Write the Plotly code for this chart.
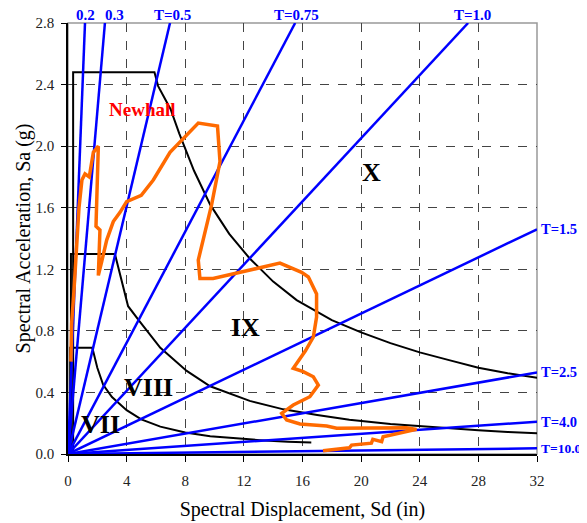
import plotly.graph_objects as go

# ---- data ----
period_labels = ["0.2", "0.3", "T=0.5", "T=0.75", "T=1.0", "T=1.5", "T=2.5", "T=4.0", "T=10.0"]
period_end_sd = [1.16, 2.52, 6.96, 15.5, 27.3, 32.0, 32.0, 32.0, 32.0]
period_end_sa = [2.8, 2.8, 2.8, 2.8, 2.8, 1.46, 0.53, 0.21, 0.037]

# region boundaries
bound_x_sd = [0.35, 0.35, 5.9, 6.15, 7.0, 7.6, 8.6, 9.7, 11.0, 12.4, 14.0, 15.6, 18.0, 20.0, 22.0, 24.0, 26.0, 28.0, 30.0, 32.0]
bound_x_sa = [0.0, 2.48, 2.48, 2.39, 2.24, 2.08, 1.84, 1.62, 1.43, 1.27, 1.12, 1.0, 0.87, 0.79, 0.72, 0.66, 0.61, 0.56, 0.525, 0.495]

bound_ix_sd = [0.2, 0.2, 3.2, 3.6, 4.1, 4.9, 6.3, 8.1, 9.7, 12.4, 14.7, 17.0, 19.2, 22.0, 24.0, 26.0, 28.0, 30.0, 32.0]
bound_ix_sa = [0.0, 1.3, 1.3, 1.15, 0.96, 0.86, 0.69, 0.54, 0.44, 0.345, 0.29, 0.253, 0.222, 0.195, 0.18, 0.165, 0.154, 0.143, 0.134]

bound_viii_sd = [0.15, 0.15, 1.66, 2.0, 2.4, 3.0, 4.0, 5.0, 6.3, 8.0, 9.7, 11.5, 13.1, 15.0, 16.6]
bound_viii_sa = [0.0, 0.69, 0.69, 0.56, 0.45, 0.37, 0.285, 0.225, 0.178, 0.14, 0.115, 0.1, 0.09, 0.08, 0.074]

newhall_sd = [0.2, 0.25, 0.4, 0.55, 0.6, 0.75, 0.95, 1.16, 1.45, 1.73, 2.07, 1.91, 2.18, 2.07, 2.3, 2.64, 3.09,
              3.55, 4.0, 5.0, 5.82, 6.96, 8.89, 10.2, 10.37, 9.8, 8.89, 9.0, 9.9, 14.46, 15.94, 16.4, 16.96,
              16.96, 16.74, 16.2, 15.37, 16.05, 16.74, 17.08, 16.5, 15.37, 14.58, 14.92, 15.83, 17.65, 18.33,
              21.06, 23.1, 23.78, 21.5, 21.4, 20.8, 20.7, 19.35, 19.2, 17.4]
newhall_sa = [0.6, 0.85, 1.05, 1.3, 1.44, 1.6, 1.78, 1.82, 1.8, 1.96, 2.0, 1.48, 1.455, 1.16, 1.25, 1.39, 1.51,
              1.57, 1.64, 1.68, 1.78, 1.96, 2.15, 2.13, 1.9, 1.62, 1.26, 1.14, 1.14, 1.24, 1.18, 1.15, 1.04,
              0.89, 0.76, 0.67, 0.557, 0.535, 0.502, 0.448, 0.372, 0.318, 0.264, 0.221, 0.195, 0.182, 0.167,
              0.171, 0.171, 0.16, 0.112, 0.08, 0.095, 0.07, 0.058, 0.04, 0.021]

region_labels = ["X", "IX", "VIII", "VII"]
region_sd = [20.7, 12.1, 5.5, 2.2]
region_sa = [1.83, 0.82, 0.435, 0.19]

x_ticks = [0, 4, 8, 12, 16, 20, 24, 28, 32]
y_ticks = [0.0, 0.4, 0.8, 1.2, 1.6, 2.0, 2.4, 2.8]

x_title = "Spectral Displacement, Sd (in)"
y_title = "Spectral Acceleration, Sa (g)"

SERIF = "Liberation Serif, Times New Roman, serif"
BLUE = "#0000FF"

fig = go.Figure()

for sd, sa in [(bound_x_sd, bound_x_sa), (bound_ix_sd, bound_ix_sa), (bound_viii_sd, bound_viii_sa)]:
    fig.add_trace(go.Scatter(x=sd, y=sa, mode="lines", line=dict(color="black", width=2),
                             showlegend=False, hoverinfo="skip"))

for lab, xe, ye in zip(period_labels, period_end_sd, period_end_sa):
    fig.add_trace(go.Scatter(x=[0, xe], y=[0, ye], mode="lines", line=dict(color=BLUE, width=2.5),
                             showlegend=False, name=lab))

fig.add_trace(go.Scatter(x=newhall_sd, y=newhall_sa, mode="lines", line=dict(color="#FF6A00", width=3.5),
                         showlegend=False, name="Newhall"))

top_label_xshift = {"0.2": 0, "0.3": 10, "T=0.5": 2, "T=0.75": 1, "T=1.0": 4}
right_label_size = {"T=10.0": 13.5}

annotations = []
for lab, xe, ye in zip(period_labels, period_end_sd, period_end_sa):
    if ye >= 2.8:
        annotations.append(dict(x=xe, y=ye, text="<b>%s</b>" % lab, showarrow=False, yanchor="middle",
                                xanchor="center", yshift=8, xshift=top_label_xshift.get(lab, 0),
                                font=dict(family=SERIF, size=15, color=BLUE)))
    else:
        annotations.append(dict(x=xe, y=ye, text="<b>%s</b>" % lab, showarrow=False, xanchor="left",
                                yanchor="middle", xshift=2,
                                font=dict(family=SERIF, size=right_label_size.get(lab, 14.5), color=BLUE)))
for lab, xs, ys in zip(region_labels, region_sd, region_sa):
    annotations.append(dict(x=xs, y=ys, text="<b>%s</b>" % lab, showarrow=False,
                            font=dict(family=SERIF, size=26, color="black")))
annotations.append(dict(x=5.08, y=2.24, text="<b>Newhall</b>", showarrow=False,
                        font=dict(family=SERIF, size=19, color="#FF0000")))

# page body adds an 8px offset; size the figure so the plot area lands where the reference has it
fig.update_layout(
    width=579, height=515,
    margin=dict(l=60, r=50, t=15, b=69, autoexpand=False),
    paper_bgcolor="white", plot_bgcolor="white",
    annotations=annotations,
    shapes=[dict(type="rect", xref="paper", yref="paper", x0=0, x1=1, y0=0, y1=1,
                 line=dict(color="#999999", width=1.5), layer="below")],
)
fig.update_xaxes(range=[0, 32], tickvals=x_ticks, ticktext=[str(v) for v in x_ticks],
                 automargin=False,
                 showgrid=True, gridcolor="#444444", griddash="dash", gridwidth=1,
                 showline=True, linecolor="black", linewidth=1.5,
                 ticks="outside", ticklen=6, tickcolor="black", ticklabelstandoff=6,
                 zeroline=False,
                 tickfont=dict(family=SERIF, size=15, color="#222222"),
                 title=dict(text=x_title, standoff=14,
                            font=dict(family=SERIF, size=20, color="black")))
fig.update_yaxes(range=[0, 2.8], tickvals=y_ticks, ticktext=["%.1f" % v for v in y_ticks],
                 automargin=False,
                 showgrid=True, gridcolor="#444444", griddash="dash", gridwidth=1,
                 showline=True, linecolor="black", linewidth=1.5,
                 ticks="outside", ticklen=5, tickcolor="black", ticklabelstandoff=4,
                 zeroline=False,
                 tickfont=dict(family=SERIF, size=15, color="#222222"),
                 title=dict(text=y_title, standoff=0,
                            font=dict(family=SERIF, size=20, color="black")))

fig.write_html("out.html")
